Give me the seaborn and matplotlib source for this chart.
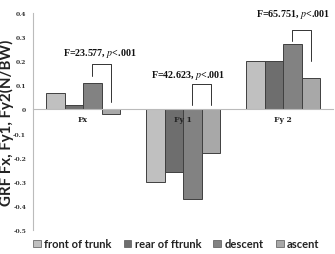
import matplotlib
matplotlib.use("Agg")
import matplotlib.pyplot as plt
import seaborn as sns
import pandas as pd
import numpy as np

categories = ["Fx", "Fy 1", "Fy 2"]
conditions = ["front of trunk", "rear of ftrunk", "descent", "ascent"]
front = [0.07, -0.30, 0.20]
rear = [0.02, -0.26, 0.20]
descent = [0.11, -0.37, 0.27]
ascent = [-0.02, -0.18, 0.13]
stats = ["F=23.577, $\\mathbf{\\it{p}}$<.001", "F=42.623, $\\mathbf{\\it{p}}$<.001", "F=65.751, $\\mathbf{\\it{p}}$<.001"]
yticks = [0.4, 0.3, 0.2, 0.1, 0, -0.1, -0.2, -0.3, -0.4, -0.5]
ytick_labels = ["0.4", "0.3", "0.2", "0.1", "0", "-0.1", "-0.2", "-0.3", "-0.4", "-0.5"]

colors = ["#c0c0c0", "#6e6e6e", "#828282", "#a8a8a8"]

rows = []
for cond, vals in zip(conditions, [front, rear, descent, ascent]):
    for c, v in zip(categories, vals):
        rows.append({"cat": c, "cond": cond, "val": v})
df = pd.DataFrame(rows)

sns.set_style("white")
plt.rcParams["mathtext.fontset"] = "stix"

fig = plt.figure(figsize=(3.35, 2.55), dpi=100)
ax = fig.add_axes([0.0985, 0.094, 0.896, 0.851])

sns.barplot(data=df, x="cat", y="val", hue="cond", order=categories,
            hue_order=conditions, palette=colors, width=0.74, gap=0,
            edgecolor="#404040", linewidth=0.7, errorbar=None, ax=ax,
            legend=True)
ax.set_axisbelow(False)

ax.set_ylim(-0.5, 0.4)
ax.set_xlim(-0.5, 2.5)
ax.set_yticks(yticks)
ax.set_yticklabels(ytick_labels, fontsize=4.3, fontweight="bold", family="DejaVu Serif", color="#333333")
ax.tick_params(axis="y", length=2, width=0.5, color="#aaaaaa", pad=3)

for s in ["top", "right"]:
    ax.spines[s].set_visible(False)
ax.spines["left"].set_color("#bbbbbb")
ax.spines["left"].set_linewidth(0.8)
ax.spines["bottom"].set_position(("data", 0))
ax.spines["bottom"].set_color("#bbbbbb")
ax.spines["bottom"].set_linewidth(0.8)
ax.set_xticks(range(len(categories)))
ax.set_xticklabels(categories, fontsize=5.5, fontweight="bold", family="DejaVu Serif", color="#222222")
ax.tick_params(axis="x", length=0, pad=4)
ax.set_xticks([0.5, 1.5], minor=True)
ax.tick_params(axis="x", which="minor", length=3, direction="inout", width=0.5, color="#aaaaaa")
ax.set_xlabel("")
ax.set_ylabel("GRF Fx, Fy1, Fy2(N/BW)", fontsize=10.8, family="Lato", fontweight="bold", color="#222222")
ax.yaxis.set_label_coords(-0.062, 0.5)

# brackets between descent and ascent bars
bars = ax.patches[:len(conditions) * len(categories)]
nc = len(categories)
desc_bars = bars[2 * nc:3 * nc]
asc_bars = bars[3 * nc:4 * nc]
bracket_top = [0.187, 0.104, 0.328]
left_leg = [0.137, 0.02, 0.282]
right_leg = [0.03, 0.02, 0.20]
text_x = [0.17, 1.05, 2.1]
text_y = [0.237, 0.145, 0.40]
for i in range(nc):
    x1 = desc_bars[i].get_x() + desc_bars[i].get_width() / 2
    x2 = asc_bars[i].get_x() + asc_bars[i].get_width() / 2
    ax.plot([x1, x1, x2, x2], [left_leg[i], bracket_top[i], bracket_top[i], right_leg[i]],
            color="#333333", lw=0.7, clip_on=False)
    ax.text(text_x[i], text_y[i], stats[i], ha="center", va="center",
            fontsize=7.2, family="Liberation Serif", fontweight="bold", color="#111111")

leg = ax.legend(loc="center left", bbox_to_anchor=(0.085, 0.04), bbox_transform=fig.transFigure,
                ncol=4, frameon=False, fontsize=8, handlelength=0.7, handleheight=0.7,
                handletextpad=0.3, columnspacing=1.1, borderaxespad=0)
for t in leg.get_texts():
    t.set_family("Lato")
    t.set_fontweight("bold")
    t.set_color("#222222")
for h in leg.legend_handles:
    h.set_edgecolor("#555555")
    h.set_linewidth(0.5)

fig.savefig("out.png", dpi=100)
